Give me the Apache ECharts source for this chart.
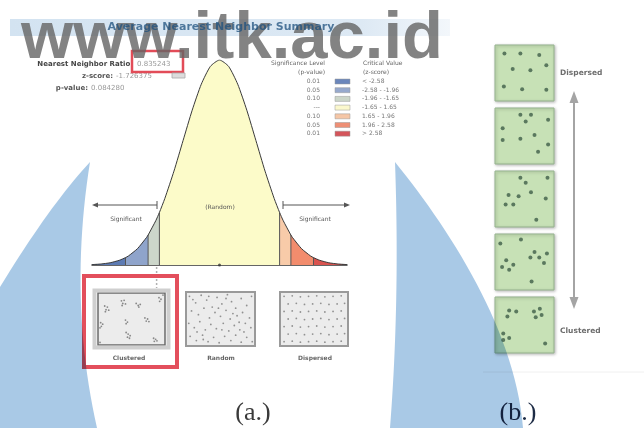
<!DOCTYPE html>
<html>
<head>
<meta charset="utf-8">
<script src="https://cdn.jsdelivr.net/npm/echarts@6/dist/echarts.min.js"></script>
<style>html,body{margin:0;padding:0;background:#fff}#chart{width:644px;height:428px}</style>
</head>
<body>
<div id="chart"></div>
<script>
// summary values
var nnRatio = '0.835243';
var zScore = -1.726375;
var pValue = '0.084280';

// bell curve (z, height with peak = 100)
var curveZ = [-3.5,-3.25,-3,-2.75,-2.58,-2.5,-2.25,-2,-1.96,-1.75,-1.65,-1.5,-1.25,-1,-0.75,-0.5,-0.25,0,
              0.25,0.5,0.75,1,1.25,1.5,1.65,1.75,1.96,2,2.25,2.5,2.58,2.75,3,3.25,3.5];
var curveH = [0.2,0.5,1.1,2.3,3.6,4.4,8.0,13.5,14.6,21.6,25.6,32.5,45.8,60.7,75.5,88.2,96.9,100,
              96.9,88.2,75.5,60.7,45.8,32.5,25.6,21.6,14.6,13.5,8.0,4.4,3.6,2.3,1.1,0.5,0.2];
var zoneEdges = [-3.5,-2.58,-1.96,-1.65,1.65,1.96,2.58,3.5];
var zoneColors = ['#5d7bb3','#8fa4cb','#ccd6ca','#fcfbc9','#f8cba9','#f28c6d','#d9534f'];

// legend table
var sigLevels = ['0.01','0.05','0.10','---','0.10','0.05','0.01'];
var critValues = ['< -2.58','-2.58 - -1.96','-1.96 - -1.65','-1.65 - 1.65','1.65 - 1.96','1.96 - 2.58','> 2.58'];
var legendColors = ['#6b86bb','#97a9cd','#ccd6c9','#fbf8cd','#f5c6a6','#ee8f75','#d4545a'];

// bottom pattern panels (0-100 panel units, y from top)
var clusteredDots = [[10,25],[14,27],[12,32],[16,33],[11,36],[35,15],[39,14],[37,20],[41,21],[36,24],
  [57,20],[60,24],[63,22],[61,27],[91,9],[94,12],[92,16],[4,57],[7,60],[5,64],[3,67],
  [41,52],[44,56],[42,59],[70,48],[74,50],[72,54],[76,55],[42,76],[45,79],[48,82],[44,85],[47,87],
  [83,87],[86,89],[84,93],[88,92],[3,95],[97,4]];
var randomDots = [[5,8],[14,20],[22,6],[30,15],[38,28],[45,10],[52,22],[60,5],[66,18],[72,30],[80,12],[88,25],[95,8],
  [8,35],[18,42],[26,30],[34,48],[42,38],[50,45],[58,34],[64,50],[74,44],[82,38],[92,48],
  [4,58],[12,66],[20,55],[28,70],[36,60],[44,68],[54,58],[62,72],[70,62],[78,70],[86,58],[94,66],
  [6,82],[15,90],[24,80],[32,92],[40,84],[48,94],[56,82],[65,90],[72,80],[80,93],[88,84],[96,92],
  [10,14],[47,30],[68,40],[25,88],[84,74],[58,12],[33,8],[77,56],[16,74],[52,70]];
var dispersedDots = [[6,8],[18,7],[30,9],[42,8],[54,7],[66,9],[78,8],[90,7],
  [12,22],[24,21],[36,23],[48,22],[60,21],[72,23],[84,22],[95,21],
  [6,36],[18,35],[30,37],[42,36],[54,35],[66,37],[78,36],[90,35],
  [12,50],[24,49],[36,51],[48,50],[60,49],[72,51],[84,50],[95,49],
  [6,64],[18,63],[30,65],[42,64],[54,63],[66,65],[78,64],[90,63],
  [12,78],[24,77],[36,79],[48,78],[60,77],[72,79],[84,78],[95,77],
  [6,92],[18,91],[30,93],[42,92],[54,91],[66,93],[78,92],[90,91]];
var bottomLabels = ['Clustered','Random','Dispersed'];

// right column, dispersed (top) to clustered (bottom)
var rightDots = [
  [[16,15],[43,15],[75,18],[87,36],[30,43],[60,45],[15,74],[46,79],[87,80]],
  [[43,12],[61,12],[52,24],[90,21],[13,36],[13,57],[43,55],[67,48],[90,65],[73,78]],
  [[43,12],[52,21],[89,12],[23,43],[40,45],[61,38],[86,49],[18,60],[31,60],[70,87]],
  [[9,17],[44,10],[19,47],[31,55],[12,59],[24,64],[67,32],[60,42],[75,42],[88,35],[83,52],[62,85]],
  [[24,24],[36,26],[21,35],[66,26],[76,21],[79,32],[69,36],[14,65],[14,77],[24,73],[85,83]]
];

var chart = echarts.init(document.getElementById('chart'));
var F = '"DejaVu Sans"';

var grids = [{left:92, top:60, width:255, height:205}];
var xAxes = [{gridIndex:0, type:'value', min:-3.5, max:3.5, axisLabel:{show:false}, axisTick:{show:false},
  splitLine:{show:false}, axisLine:{lineStyle:{color:'#333', width:1.5}}}];
var yAxes = [{gridIndex:0, type:'value', min:0, max:100, show:false}];
var series = [];

var pts = curveZ.map(function (z, i) { return [z, curveH[i]]; });
function hAt(z) { return curveH[curveZ.indexOf(z)]; }

zoneEdges.slice(0, -1).forEach(function (from, k) {
  var to = zoneEdges[k + 1];
  series.push({type:'line', xAxisIndex:0, yAxisIndex:0, symbol:'none', smooth:0.2, silent:true, z:1,
    data: pts.filter(function (p) { return p[0] >= from && p[0] <= to; }),
    lineStyle:{width:0}, areaStyle:{color:zoneColors[k], opacity:1}});
});
zoneEdges.slice(1, -1).forEach(function (z) {
  series.push({type:'line', xAxisIndex:0, yAxisIndex:0, symbol:'none', silent:true, z:2,
    data:[[z,0],[z,hAt(z)]], lineStyle:{color:'#555', width:1}});
});
series.push({type:'line', xAxisIndex:0, yAxisIndex:0, symbol:'none', smooth:0.2, silent:true, z:3,
  data:pts, lineStyle:{color:'#3a3a3a', width:1}});
series.push({type:'scatter', xAxisIndex:0, yAxisIndex:0, silent:true, z:4,
  data:[[0,0]], symbolSize:3, itemStyle:{color:'#333'}});

function addPanel(box, bg, border, bw, dots, size, color, shadow) {
  var gi = grids.length;
  grids.push({left:box[0], top:box[1], width:box[2], height:box[3], show:true,
    backgroundColor:bg, borderColor:border, borderWidth:bw,
    shadowColor: shadow ? 'rgba(0,0,0,0.25)' : 'transparent', shadowBlur: shadow ? 3 : 0, shadowOffsetX:1, shadowOffsetY:1});
  xAxes.push({gridIndex:gi, type:'value', min:0, max:100, show:false});
  yAxes.push({gridIndex:gi, type:'value', min:0, max:100, inverse:true, show:false});
  series.push({type:'scatter', xAxisIndex:gi, yAxisIndex:gi, data:dots, symbolSize:size, silent:true,
    itemStyle:{color:color}});
}

var rightTops = [45, 108, 171, 234, 297];
rightDots.forEach(function (d, i) {
  addPanel([495, rightTops[i], 59, 56], '#c7e1b6', '#95b38e', 1, d, 4, '#3e5e48', true);
});
addPanel([98, 293, 67, 52], '#ececec', '#6a6a6a', 1.5, clusteredDots, 1.8, '#6f6f6f', false);
addPanel([186, 292, 69, 54], '#ececec', '#9a9a9a', 2, randomDots, 1.8, '#7a7a7a', false);
addPanel([280, 292, 68, 54], '#ececec', '#9a9a9a', 2, dispersedDots, 1.8, '#7a7a7a', false);

chart.setOption({
  animation:false,
  backgroundColor:'#fff',
  grid:grids, xAxis:xAxes, yAxis:yAxes, series:series
});

function txt(x, y, s, font, fill, align) {
  return {type:'text', x:x, y:y, z:20, silent:true,
    style:{text:s, font:font, fill:fill, align:align || 'left', verticalAlign:'middle',
      textAlign:align || 'left', textVerticalAlign:'middle'}};
}
function sampleQ(p0, c, p1, n) {
  var out = [];
  for (var i = 0; i <= n; i++) {
    var t = i / n, u = 1 - t;
    out.push([u*u*p0[0] + 2*u*t*c[0] + t*t*p1[0], u*u*p0[1] + 2*u*t*c[1] + t*t*p1[1]]);
  }
  return out;
}
function sampleC(p0, c1, c2, p1, n) {
  var out = [];
  for (var i = 0; i <= n; i++) {
    var t = i / n, u = 1 - t;
    out.push([u*u*u*p0[0] + 3*u*u*t*c1[0] + 3*u*t*t*c2[0] + t*t*t*p1[0],
              u*u*u*p0[1] + 3*u*u*t*c1[1] + 3*u*t*t*c2[1] + t*t*t*p1[1]]);
  }
  return out;
}

var g = [];
// title band and watermark
g.push({type:'rect', z:5, silent:true, shape:{x:10, y:19, width:440, height:17},
  style:{fill:{type:'linear', x:0, y:0, x2:1, y2:0, colorStops:[
    {offset:0, color:'#d3e3f1'}, {offset:0.8, color:'#dde9f4'}, {offset:1, color:'#f3f7fb'}]}}});
g.push({type:'text', x:232, y:40, z:30, silent:true,
  style:{text:'www.itk.ac.id', font:'bold 67px "Liberation Sans"', fill:'rgba(100,100,100,0.8)',
    align:'center', verticalAlign:'middle', textAlign:'center', textVerticalAlign:'middle'}});
var title = txt(221, 27, 'Average Nearest Neighbor Summary', 'bold 11px ' + F, 'rgba(30,80,125,0.75)', 'center');
title.z = 31;
g.push(title);

// summary figures
g.push(txt(133, 64, 'Nearest Neighbor Ratio:', 'bold 7px ' + F, '#444', 'right'));
g.push(txt(137, 64, nnRatio, '7px ' + F, '#9a9a9a'));
g.push({type:'rect', z:21, silent:true, shape:{x:132, y:51, width:51, height:21},
  style:{fill:'none', stroke:'#e24c58', lineWidth:2.5}});
g.push(txt(113, 76, 'z-score:', 'bold 7px ' + F, '#555', 'right'));
g.push(txt(116, 76, String(zScore), '7px ' + F, '#9a9a9a'));
g.push({type:'rect', z:21, silent:true, shape:{x:172, y:73, width:13, height:5},
  style:{fill:'#dcdcdc', stroke:'#a8a8a8', lineWidth:0.8}});
g.push(txt(88, 88, 'p-value:', 'bold 7px ' + F, '#555', 'right'));
g.push(txt(91, 88, pValue, '7px ' + F, '#9a9a9a'));

// legend table
g.push(txt(325, 63, 'Significance Level', '6px ' + F, '#666', 'right'));
g.push(txt(325, 72, '(p-value)', '6px ' + F, '#666', 'right'));
g.push(txt(363, 63, 'Critical Value', '6px ' + F, '#666'));
g.push(txt(363, 72, '(z-score)', '6px ' + F, '#666'));
sigLevels.forEach(function (s, i) {
  var y = 81.5 + i * 8.7;
  g.push(txt(320, y, s, '6px ' + F, '#777', 'right'));
  g.push({type:'rect', z:20, silent:true, shape:{x:335, y:y - 2.5, width:15, height:5},
    style:{fill:legendColors[i], stroke:'#999', lineWidth:0.5}});
  g.push(txt(362, y, critValues[i], '6px ' + F, '#777'));
});

// curve annotations
g.push({type:'line', z:20, silent:true, shape:{x1:157, y1:205, x2:95, y2:205}, style:{stroke:'#555', lineWidth:1}});
g.push({type:'polygon', z:20, silent:true, shape:{points:[[92,205],[98,202.5],[98,207.5]]}, style:{fill:'#555'}});
g.push({type:'line', z:20, silent:true, shape:{x1:157, y1:201, x2:157, y2:209}, style:{stroke:'#555', lineWidth:1}});
g.push({type:'line', z:20, silent:true, shape:{x1:283, y1:205, x2:347, y2:205}, style:{stroke:'#555', lineWidth:1}});
g.push({type:'polygon', z:20, silent:true, shape:{points:[[350,205],[344,202.5],[344,207.5]]}, style:{fill:'#555'}});
g.push({type:'line', z:20, silent:true, shape:{x1:283, y1:201, x2:283, y2:209}, style:{stroke:'#555', lineWidth:1}});
g.push(txt(126, 219, 'Significant', '6px ' + F, '#555', 'center'));
g.push(txt(315, 219, 'Significant', '6px ' + F, '#555', 'center'));
g.push(txt(220, 207, '(Random)', '6px ' + F, '#555', 'center'));

// z-score marker down to the clustered panel
var zx = chart.convertToPixel({xAxisIndex:0}, zScore);
g.push({type:'line', z:20, silent:true, shape:{x1:zx, y1:267, x2:zx, y2:288},
  style:{stroke:'#b0b0b0', lineWidth:1.5, lineDash:[2,2]}});

// bottom panels frame, highlight and labels
g.push({type:'rect', z:20, silent:true, shape:{x:94.5, y:290.5, width:74, height:57},
  style:{fill:'none', stroke:'#cfcfcf', lineWidth:4}});
g.push({type:'rect', z:20, silent:true, shape:{x:84, y:276, width:93, height:91},
  style:{fill:'none', stroke:'#e34f5c', lineWidth:4}});
[129, 221, 315].forEach(function (x, i) {
  g.push(txt(x, 358, bottomLabels[i], 'bold 6px ' + F, '#666', 'center'));
});

// right column arrow and labels
g.push({type:'line', z:20, silent:true, shape:{x1:574, y1:100, x2:574, y2:300}, style:{stroke:'#a4a4a4', lineWidth:2}});
g.push({type:'polygon', z:20, silent:true, shape:{points:[[574,91],[569.5,103],[578.5,103]]}, style:{fill:'#a4a4a4'}});
g.push({type:'polygon', z:20, silent:true, shape:{points:[[574,309],[569.5,297],[578.5,297]]}, style:{fill:'#a4a4a4'}});
g.push(txt(560, 73, 'Dispersed', 'bold 7.5px ' + F, '#6d6d6d'));
g.push(txt(560, 331, 'Clustered', 'bold 7.5px ' + F, '#6d6d6d'));
g.push({type:'line', z:0, silent:true, shape:{x1:483, y1:372, x2:644, y2:372}, style:{stroke:'#f0f0f0', lineWidth:1}});

// captions
g.push(txt(253, 413, '(a.)', '26px "Liberation Serif"', '#3a3a3a', 'center'));
g.push(txt(518, 413, '(b.)', '26px "Liberation Serif"', '#1d2b45', 'center'));

// blue logo crescents in the background
var leftBlue = sampleQ([90,162], [50,205], [0,287], 20).concat([[0,428]], sampleQ([97,428], [68,300], [90,162], 24));
var rightBlue = sampleC([395,162], [450,230], [515,330], [523,428], 30).concat(sampleQ([390,428], [400,300], [395,162], 24));
[leftBlue, rightBlue].forEach(function (p) {
  g.push({type:'polygon', z:40, silent:true, shape:{points:p},
    style:{fill:'#a9c9e6', blend:'multiply'}});
});

chart.setOption({graphic:g});
</script>
</body>
</html>
